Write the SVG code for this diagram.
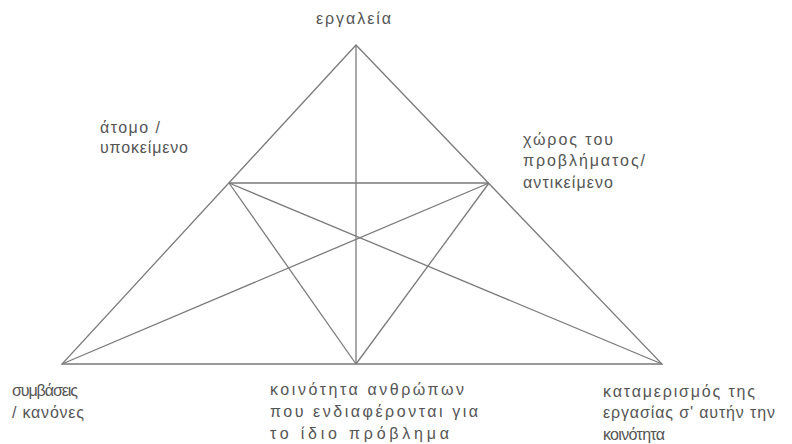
<svg xmlns="http://www.w3.org/2000/svg" width="792" height="444" viewBox="0 0 792 444">
<style>
.l{stroke:#7a7a7a;stroke-width:1.3;fill:none}
text{font-family:"Liberation Sans",Arial,sans-serif;font-size:16px;fill:#555}
</style>
<rect width="792" height="444" fill="#fff"/>
<g id="connectors">
<path class="l" d="M356,45 L62,364 L662,364 Z"/>
<line class="l" x1="356" y1="45" x2="356" y2="364"/>
<line class="l" x1="229" y1="183" x2="489" y2="183"/>
<line class="l" x1="229" y1="183" x2="356" y2="364"/>
<line class="l" x1="229" y1="183" x2="662" y2="364"/>
<line class="l" x1="489" y1="183" x2="356" y2="364"/>
<line class="l" x1="489" y1="183" x2="62" y2="364"/>
</g>
<g id="tools"><text x="316" y="24" textLength="75">εργαλεία</text></g>
<g id="subject"><text x="100" y="133" textLength="60">άτομο /</text><text x="100" y="153" textLength="88">υποκείμενο</text></g>
<g id="object"><text x="523" y="145" textLength="90">χώρος του</text><text x="523" y="166" textLength="122">προβλήματος/</text><text x="523" y="188" textLength="90">αντικείμενο</text></g>
<g id="rules"><text x="12" y="396" textLength="66">συμβάσεις</text><text x="12" y="418" textLength="72">/ κανόνες</text></g>
<g id="community"><text x="270" y="395" textLength="194">κοινότητα ανθρώπων</text><text x="270" y="417" textLength="208">που ενδιαφέρονται για</text><text x="270" y="439" textLength="179">το ίδιο πρόβλημα</text></g>
<g id="division"><text x="603" y="397" textLength="152">καταμερισμός της</text><text x="603" y="418" textLength="172">εργασίας σ' αυτήν την</text><text x="603" y="440" textLength="62">κοινότητα</text></g>
</svg>
